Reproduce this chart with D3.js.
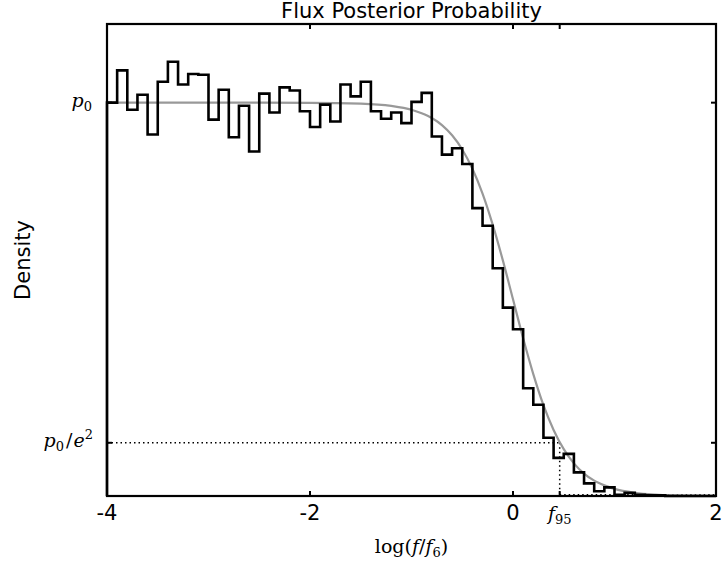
<!DOCTYPE html>
<html><head><meta charset="utf-8">
<script src="https://cdn.jsdelivr.net/npm/d3@7"></script>
<style>body{margin:0;background:#fff}svg{display:block}</style>
</head><body>
<svg id="c" width="722" height="563"></svg>
<script>
// Histogram (density / p0), bins of width 0.1 from -4 to 2
const binStart = -4, binWidth = 0.1;
const histValues = [
 1.000,1.082,0.982,1.020,0.919,1.053,1.104,1.046,1.073,1.071,
 0.957,1.033,0.912,0.992,0.876,1.023,0.975,1.039,1.031,0.978,
 0.938,0.995,0.952,1.046,1.016,1.053,0.978,0.959,0.975,0.948,
 1.002,1.025,0.914,0.868,0.884,0.844,0.732,0.687,0.579,0.479,
 0.424,0.274,0.232,0.148,0.097,0.107,0.060,0.032,0.012,0.022,
 0.003,0.008,0.003,0.002,0.002,0,0,0,0,0];
// Model curve
const curveX = [-4,-3,-2,-1.5,-1.2,-1.0,-0.9,-0.8,-0.7,-0.6,-0.5,-0.4,-0.3,-0.2,-0.1,0,0.1,0.2,0.3,0.4,0.5,0.6,0.7,0.8,0.9,1.0,1.2,1.4,1.6,1.8,2.0];
const curveY = [1.0,1.0,0.9997,0.9975,0.9918,0.982,0.973,0.961,0.943,0.917,0.881,0.832,0.769,0.690,0.599,0.5,0.401,0.310,0.231,0.168,0.119,0.083,0.057,0.039,0.027,0.018,0.0082,0.0037,0.0017,0.00075,0.00034];
const xTicks = [-4,-2,0,2];
const xTickLabels = ["-4","-2","0","2"];
const f95 = 0.46;
const p0 = 1.0, p0e2 = 0.1353;

const svg = d3.select("#c");
const L=107, R=716, T=24, B=496;
const x = d3.scaleLinear().domain([-4,2]).range([L,R]);
const y = d3.scaleLinear().domain([0,1.2]).range([B,T]);
const SANS = "DejaVu Sans", SERIF = "DejaVu Serif";

// dotted reference lines
svg.append("line").attr("x1",x(-4)).attr("x2",x(f95)).attr("y1",y(p0e2)).attr("y2",y(p0e2))
  .attr("stroke","#000").attr("stroke-width",1.5).attr("stroke-dasharray","1.5,3");
svg.append("line").attr("x1",x(f95)).attr("x2",x(f95)).attr("y1",y(p0e2)).attr("y2",y(0))
  .attr("stroke","#000").attr("stroke-width",1.5).attr("stroke-dasharray","1.5,3");
svg.append("line").attr("x1",x(f95)).attr("x2",x(2)).attr("y1",y(0)-1.5).attr("y2",y(0)-1.5)
  .attr("stroke","#000").attr("stroke-width",1).attr("stroke-dasharray","1.5,3");

// curve
const curvePts = curveX.map((d,i)=>[d,curveY[i]]);
svg.append("path").datum(curvePts)
  .attr("d", d3.line().x(d=>x(d[0])).y(d=>y(d[1])).curve(d3.curveMonotoneX))
  .attr("fill","none").attr("stroke","#999").attr("stroke-width",2.2);

// histogram step
const pts = [[binStart,0]];
histValues.forEach((v,i)=>{
  const a = binStart + i*binWidth, b = a + binWidth;
  pts.push([a,v]); pts.push([b,v]);
});
pts.push([binStart+histValues.length*binWidth,0]);
svg.append("path").datum(pts)
  .attr("d", d3.line().x(d=>x(d[0])).y(d=>y(d[1])))
  .attr("fill","none").attr("stroke","#000").attr("stroke-width",2.6).attr("stroke-linejoin","miter");

// frame
svg.append("rect").attr("x",L).attr("y",T).attr("width",R-L).attr("height",B-T)
  .attr("fill","none").attr("stroke","#000").attr("stroke-width",2.2);

// ticks (inward)
const xt = [...xTicks, f95];
xt.forEach(t=>{
  svg.append("line").attr("x1",x(t)).attr("x2",x(t)).attr("y1",B).attr("y2",B-5).attr("stroke","#000").attr("stroke-width",2);
  svg.append("line").attr("x1",x(t)).attr("x2",x(t)).attr("y1",T).attr("y2",T+5).attr("stroke","#000").attr("stroke-width",2);
});
[p0,p0e2].forEach(t=>{
  svg.append("line").attr("x1",L).attr("x2",L+5).attr("y1",y(t)).attr("y2",y(t)).attr("stroke","#000").attr("stroke-width",2);
  svg.append("line").attr("x1",R).attr("x2",R-5).attr("y1",y(t)).attr("y2",y(t)).attr("stroke","#000").attr("stroke-width",2);
});

// x tick labels
xTicks.forEach((t,i)=>{
  svg.append("text").attr("x",x(t)).attr("y",520).attr("text-anchor","middle")
    .attr("font-family",SANS).attr("font-size",21).text(xTickLabels[i]);
});
// f95 label
const f95t = svg.append("text").attr("x",x(f95)).attr("y",520).attr("text-anchor","middle")
  .attr("font-family",SERIF).attr("font-size",19);
f95t.append("tspan").attr("font-style","italic").text("f");
f95t.append("tspan").attr("font-size",13).attr("dy",4).text("95");

// y labels
const yl1 = svg.append("text").attr("x",92).attr("y",y(p0)+4).attr("text-anchor","end")
  .attr("font-family",SERIF).attr("font-size",19);
yl1.append("tspan").attr("font-style","italic").text("p");
yl1.append("tspan").attr("font-size",13).attr("dy",4).text("0");

const yl2 = svg.append("text").attr("x",93).attr("y",y(p0e2)+4).attr("text-anchor","end")
  .attr("font-family",SERIF).attr("font-size",19);
yl2.append("tspan").attr("font-style","italic").text("p");
yl2.append("tspan").attr("font-size",13).attr("dy",4).text("0");
yl2.append("tspan").attr("dy",-4).attr("dx",2).text("/");
yl2.append("tspan").attr("font-style","italic").attr("dx",1).text("e");
yl2.append("tspan").attr("font-size",13).attr("dy",-8).text("2");

// axis titles
const xl = svg.append("text").attr("x",(L+R)/2).attr("y",553).attr("text-anchor","middle")
  .attr("font-family",SERIF).attr("font-size",19);
xl.append("tspan").text("log(");
xl.append("tspan").attr("font-style","italic").text("f");
xl.append("tspan").text("/");
xl.append("tspan").attr("font-style","italic").text("f");
xl.append("tspan").attr("font-size",13).attr("dy",4).text("6");
xl.append("tspan").attr("dy",-4).text(")");

svg.append("text").attr("transform",`translate(30,${(T+B)/2}) rotate(-90)`).attr("text-anchor","middle")
  .attr("font-family",SANS).attr("font-size",21).text("Density");

svg.append("text").attr("x",(L+R)/2).attr("y",18).attr("text-anchor","middle")
  .attr("font-family",SANS).attr("font-size",21).text("Flux Posterior Probability");
</script>
</body></html>
